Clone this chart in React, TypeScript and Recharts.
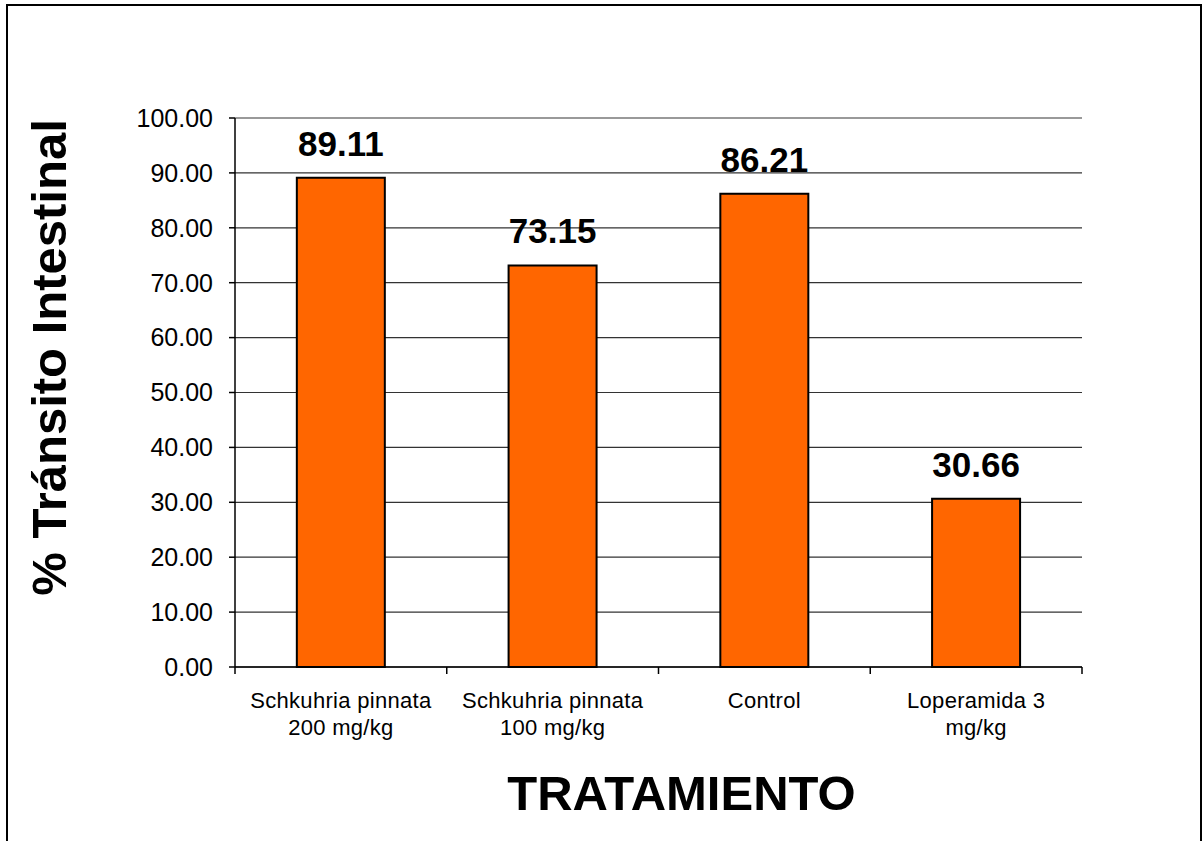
import React from 'react';
import {
  BarChart, Bar, XAxis, YAxis, CartesianGrid, LabelList, ReferenceLine
} from 'recharts';

const categories = [
  'Schkuhria pinnata\n200 mg/kg',
  'Schkuhria pinnata\n100 mg/kg',
  'Control',
  'Loperamida 3\nmg/kg',
];
const transito = [89.11, 73.15, 86.21, 30.66];
const yTicks = [0, 10, 20, 30, 40, 50, 60, 70, 80, 90, 100];

const data = categories.map((name, i) => ({ name, value: transito[i] }));

const FONT = '"Liberation Sans", Arial, sans-serif';

// category label plus the tick marks on the category boundaries (Excel style)
const CategoryTick = (props: any) => {
  const { x, y, payload, index } = props;
  const lines = String(payload.value).split('\n');
  const half = payload.offset || 0;
  const isLast = index === categories.length - 1;
  return (
    <g>
      <line x1={x - half} x2={x - half} y1={y} y2={y + 7} stroke="#000" strokeWidth={1.5} />
      {isLast && <line x1={x + half} x2={x + half} y1={y} y2={y + 7} stroke="#000" strokeWidth={1.5} />}
      <text x={x} y={y} textAnchor="middle" fontSize={22} fill="#000" fontFamily={FONT} letterSpacing={0.3}>
        {lines.map((line, i) => (
          <tspan key={i} x={x} dy={i === 0 ? 41 : 27}>{line}</tspan>
        ))}
      </text>
    </g>
  );
};

const YTitle = (props: any) => {
  const vb = props.viewBox;
  const x = vb.x + 66;
  const y = vb.y + vb.height / 2 - 35;
  return (
    <text
      x={x} y={y} transform={`rotate(-90 ${x} ${y})`}
      textAnchor="middle" fontSize={49} fontWeight="bold" fill="#000" fontFamily={FONT}
    >
      % Tránsito Intestinal
    </text>
  );
};

const XTitle = (props: any) => {
  const vb = props.viewBox;
  return (
    <text
      x={vb.x + vb.width / 2 + 23} y={vb.y + 143}
      textAnchor="middle" fontSize={49} fontWeight="bold" fill="#000" fontFamily={FONT}
    >
      TRATAMIENTO
    </text>
  );
};

export default function App() {
  return (
    <div style={{ position: 'absolute', left: 0, top: 0, width: 1203, height: 841, overflow: 'hidden', background: '#fff' }}>
      <div style={{
        position: 'absolute', left: 6, top: 4, width: 1196, height: 900,
        border: '2px solid #000', boxSizing: 'border-box'
      }} />
      <div style={{ position: 'absolute', left: 0, top: 0 }}>
        <BarChart
          width={1203}
          height={841}
          data={data}
          margin={{ top: 118, right: 121, bottom: 0, left: 0 }}
          barCategoryGap="29.2%"
        >
          <CartesianGrid vertical={false} stroke="#333" strokeWidth={1.2} />
          <XAxis
            dataKey="name"
            interval={0}
            height={174}
            tickLine={false}
            tickSize={0}
            tickMargin={0}
            axisLine={{ stroke: '#000', strokeWidth: 1.5 }}
            tick={<CategoryTick />}
            label={<XTitle />}
          />
          <YAxis
            domain={[0, 100]}
            ticks={yTicks}
            width={235}
            tickFormatter={(v: number) => v.toFixed(2)}
            tick={{ fill: '#000', fontSize: 25, fontFamily: FONT }}
            tickSize={6}
            tickMargin={16}
            tickLine={{ stroke: '#000', strokeWidth: 1.5 }}
            axisLine={{ stroke: '#000', strokeWidth: 1.5 }}
            label={<YTitle />}
          />
          <YAxis
            yAxisId="right"
            orientation="right"
            domain={[0, 100]}
            width={0}
            tick={false}
            tickLine={false}
            axisLine={{ stroke: '#999', strokeWidth: 2 }}
          />
          <ReferenceLine y={100} stroke="#999" strokeWidth={2} />
          <Bar dataKey="value" fill="#FF6600" stroke="#000" strokeWidth={2} isAnimationActive={false}>
            <LabelList
              dataKey="value"
              position="top"
              offset={22}
              formatter={(v: any) => Number(v).toFixed(2)}
              style={{ fontSize: 35, fontWeight: 'bold', fill: '#000', fontFamily: FONT }}
            />
          </Bar>
        </BarChart>
      </div>
    </div>
  );
}
